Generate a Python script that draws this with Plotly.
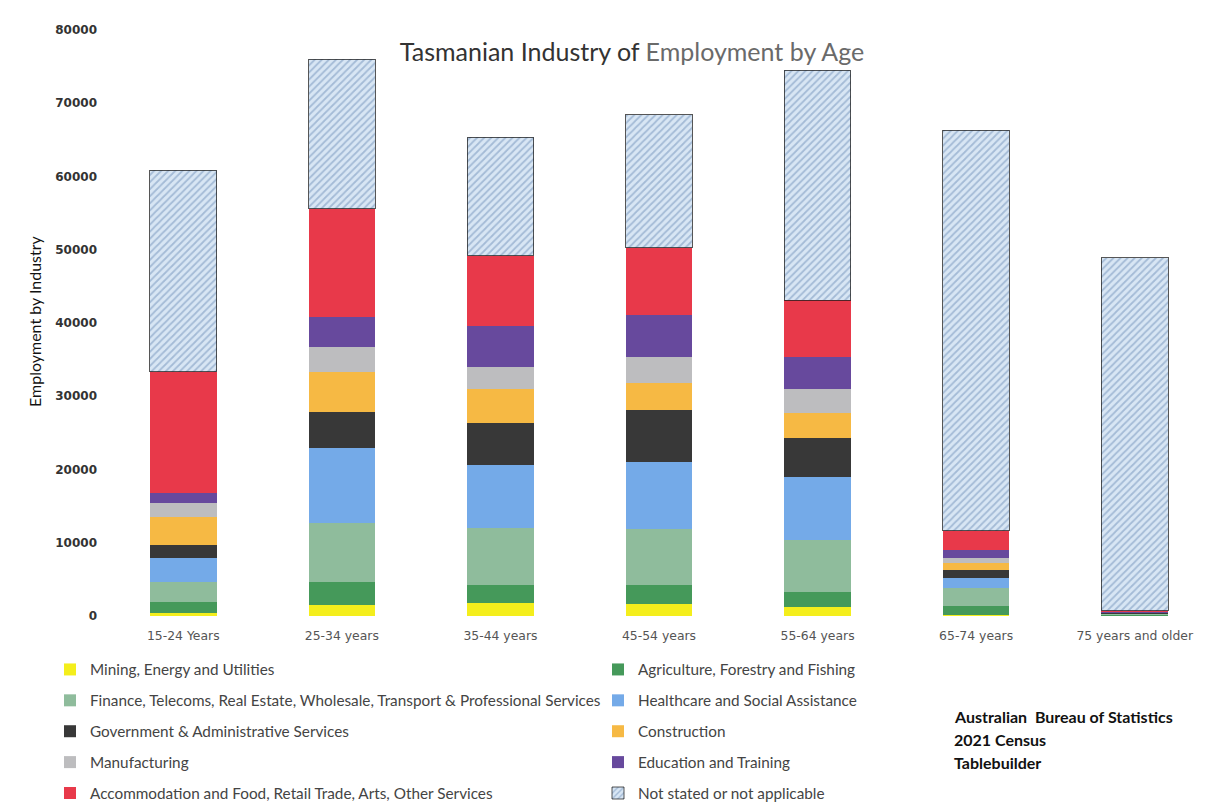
import plotly.graph_objects as go

ages = ["15-24 Years", "25-34 years", "35-44 years", "45-54 years", "55-64 years", "65-74 years", "75 years and older"]

mining = [400, 1500, 1790, 1690, 1210, 200, 30]
agriculture = [1580, 3180, 2440, 2540, 2050, 1100, 120]
finance = [2730, 7970, 7790, 7690, 7050, 2510, 150]
healthcare = [3190, 10230, 8530, 9120, 8640, 1360, 80]
government = [1820, 4990, 5850, 7060, 5350, 1140, 60]
construction = [3860, 5460, 4620, 3760, 3460, 990, 50]
manufacturing = [1820, 3410, 3030, 3460, 3170, 600, 40]
education = [1410, 4090, 5510, 5840, 4490, 1130, 50]
accommodation = [16510, 14790, 9600, 9110, 7690, 2640, 120]
not_stated = [27560, 20370, 16220, 18180, 31380, 54660, 48240]

source_lines = ["Australian  Bureau of Statistics", "2021 Census", "Tablebuilder"]

series = [
    ("Mining, Energy and Utilities", mining, "#f4ee1c", "legend"),
    ("Agriculture, Forestry and Fishing", agriculture, "#45995a", "legend2"),
    ("Finance, Telecoms, Real Estate, Wholesale, Transport & Professional Services", finance, "#8fbc9c", "legend"),
    ("Healthcare and Social Assistance", healthcare, "#74aae8", "legend2"),
    ("Government & Administrative Services", government, "#383838", "legend"),
    ("Construction", construction, "#f6b944", "legend2"),
    ("Manufacturing", manufacturing, "#bdbdbf", "legend"),
    ("Education and Training", education, "#67499d", "legend2"),
    ("Accommodation and Food, Retail Trade, Arts, Other Services", accommodation, "#e8394a", "legend"),
]

fig = go.Figure()
for name, vals, col, lg in series:
    fig.add_trace(go.Bar(
        x=ages, y=vals, name=name, legend=lg, legendgroup=name,
        marker=dict(color=col, line=dict(width=0)),
    ))

fig.add_trace(go.Bar(
    x=ages, y=not_stated, name="Not stated or not applicable", legend="legend2",
    legendgroup="Not stated or not applicable",
    marker=dict(color="#d5e3f2",
                pattern=dict(shape="/", fgcolor="#6f8fb8", bgcolor="#d8e6f4", size=5, solidity=0.35),
                line=dict(color="rgba(30,30,30,0.75)", width=1)),
))

legend_font = dict(family="Lato", size=15.3, color="#444444")

# page body adds an 8px offset; positions below are in figure coordinates
W, H = 1226, 807
L, R, T, B = 96, 20, 22, 199
PW, PH = W - L - R, H - T - B

fig.update_layout(
    width=W, height=H,
    margin=dict(l=L, r=R, t=T, b=B, autoexpand=False),
    barmode="stack", bargap=0.58,
    plot_bgcolor="white", paper_bgcolor="white",
    title=dict(
        text="Tasmanian Industry of <span style='color:#6a6a6a'>Employment by Age</span>",
        x=624/W, xref="container", xanchor="center",
        y=1-44/H, yref="container", yanchor="middle",
        font=dict(family="Lato", size=25, color="#333333"),
    ),
    xaxis=dict(
        showgrid=False, showline=False, zeroline=False,
        tickfont=dict(family="DejaVu Sans", size=12.4, color="#555555"),
        ticks="", ticklabelstandoff=11,
    ),
    yaxis=dict(
        range=[0, 80000], dtick=10000, tickformat="d",
        showgrid=False, showline=False, zeroline=False,
        tickfont=dict(family="DejaVu Sans", size=12, color="#333333", weight="bold"),
        ticklabelstandoff=6,
    ),
    legend=dict(
        x=42/W, xref="container", xanchor="left",
        y=1-645/H, yref="container", yanchor="top",
        orientation="v", traceorder="grouped", tracegroupgap=8,
        font=legend_font, bgcolor="rgba(0,0,0,0)", itemwidth=30,
    ),
    legend2=dict(
        x=590/W, xref="container", xanchor="left",
        y=1-645/H, yref="container", yanchor="top",
        orientation="v", traceorder="grouped", tracegroupgap=8,
        font=legend_font, bgcolor="rgba(0,0,0,0)", itemwidth=30,
    ),
    showlegend=True,
)

fig.add_annotation(
    text="Employment by Industry", textangle=-90,
    x=(27 - L) / PW, xref="paper", xanchor="center",
    y=(H - B - 313) / PH, yref="paper", yanchor="middle",
    showarrow=False, font=dict(family="Lato", size=16, color="#111111"),
)

for i, line in enumerate(source_lines):
    fig.add_annotation(
        text="<b>" + line + "</b>",
        x=(944 - L) / PW, xref="paper", xanchor="left",
        y=(H - B - (708 + 23 * i)) / PH, yref="paper", yanchor="middle", align="left",
        showarrow=False, font=dict(family="Lato", size=16, color="#111111"),
    )

fig.write_html("out.html")
